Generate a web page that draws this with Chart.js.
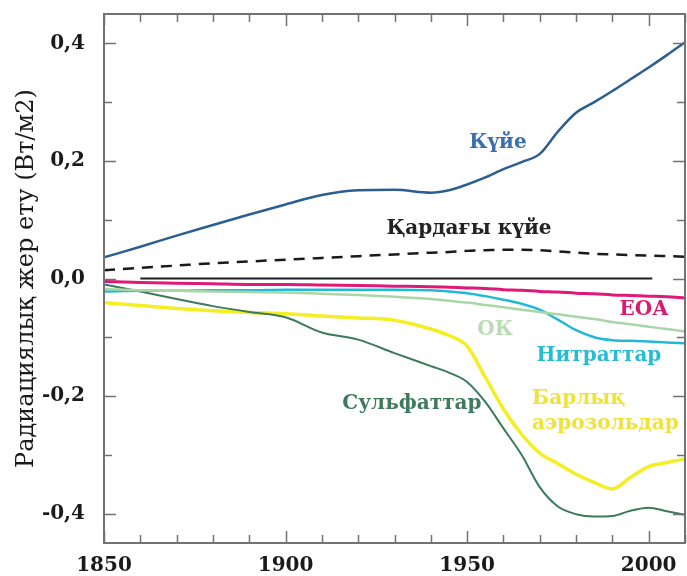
<!DOCTYPE html>
<html>
<head>
<meta charset="utf-8">
<script src="https://cdn.jsdelivr.net/npm/chart.js@4.4.1/dist/chart.umd.min.js"></script>
<style>
  html, body { margin: 0; padding: 0; background: #fff; }
  canvas { display: block; }
</style>
</head>
<body>
<canvas id="chart" width="687" height="576"></canvas>
<script>
// years shared by the forcing curves
const years = [1850, 1860, 1870, 1880, 1890, 1900, 1910, 1920, 1930, 1940, 1945, 1950,
               1955, 1960, 1965, 1970, 1975, 1980, 1985, 1990, 1995, 2000, 2005, 2010];

const soot = [0.036, 0.054, 0.073, 0.091, 0.109, 0.126, 0.142, 0.150, 0.151, 0.146, 0.150, 0.160,
              0.172, 0.186, 0.198, 0.212, 0.250, 0.282, 0.300, 0.319, 0.339, 0.359, 0.380, 0.402];
const snowSoot = [0.014, 0.018, 0.022, 0.026, 0.029, 0.032, 0.035, 0.038, 0.041, 0.044, 0.045, 0.047,
                  0.048, 0.049, 0.049, 0.048, 0.046, 0.044, 0.042, 0.041, 0.040, 0.039, 0.038, 0.037];
const eoa = [-0.005, -0.007, -0.008, -0.009, -0.010, -0.010, -0.011, -0.012, -0.013, -0.014, -0.015, -0.016,
             -0.017, -0.019, -0.020, -0.022, -0.023, -0.025, -0.026, -0.028, -0.029, -0.030, -0.031, -0.033];
const organicCarbon = [-0.018, -0.020, -0.021, -0.022, -0.023, -0.024, -0.026, -0.028, -0.031, -0.035, -0.038, -0.041,
                       -0.045, -0.049, -0.053, -0.057, -0.061, -0.065, -0.069, -0.074, -0.078, -0.082, -0.086, -0.090];
const nitrates = [-0.022, -0.021, -0.021, -0.020, -0.020, -0.019, -0.019, -0.019, -0.019, -0.020, -0.022, -0.025,
                  -0.030, -0.036, -0.043, -0.053, -0.070, -0.088, -0.100, -0.105, -0.106, -0.107, -0.109, -0.110];
const sulphates = [-0.010, -0.022, -0.035, -0.047, -0.057, -0.066, -0.092, -0.104, -0.127, -0.149, -0.160, -0.176,
                   -0.210, -0.255, -0.300, -0.355, -0.388, -0.401, -0.405, -0.404, -0.395, -0.390, -0.396, -0.402];
const allAerosols = [-0.041, -0.046, -0.051, -0.055, -0.058, -0.060, -0.064, -0.067, -0.071, -0.086, -0.097, -0.115,
                     -0.168, -0.222, -0.265, -0.297, -0.315, -0.333, -0.347, -0.358, -0.338, -0.320, -0.313, -0.307];

// zero reference line
const zeroYears = [1860, 2001];
const zeroValues = [0, 0];

// curve names written on the plot (year, value of the text anchor)
const curveLabels = [
  { text: 'Күйе', year: 1958.5, value: 0.231, color: '#3a6fae', align: 'center' },
  { text: 'Қардағы күйе', year: 1950.5, value: 0.085, color: '#222222', align: 'center' },
  { text: 'ЕОА', year: 1998.7, value: -0.054, color: '#d81b72', align: 'center' },
  { text: 'ОК', year: 1957.7, value: -0.088, color: '#b9dcb4', align: 'center' },
  { text: 'Нитраттар', year: 1986.3, value: -0.131, color: '#27bcd2', align: 'center' },
  { text: 'Сульфаттар', year: 1934.8, value: -0.214, color: '#3f7a5e', align: 'center' },
  { text: 'Барлық', year: 1967.9, value: -0.204, color: '#efe338', align: 'left' },
  { text: 'аэрозольдар', year: 1967.9, value: -0.248, color: '#efe338', align: 'left' }
];

const pts = (xs, ys) => xs.map((x, i) => ({ x: x, y: ys[i] }));
const SERIF = "'DejaVu Serif', serif";

function line(data, color, width, extra) {
  return Object.assign({
    data: data,
    borderColor: color,
    borderWidth: width,
    pointRadius: 0,
    fill: false,
    cubicInterpolationMode: 'monotone'
  }, extra || {});
}

const decorations = {
  id: 'decorations',
  afterDatasetsDraw(chart) {
    const { ctx, chartArea: a, scales: { x, y } } = chart;
    ctx.save();

    // frame
    ctx.strokeStyle = '#727272';
    ctx.lineWidth = 2;
    ctx.strokeRect(a.left, a.top, a.right - a.left, a.bottom - a.top);

    // inward ticks on all four sides
    ctx.lineWidth = 1.5;
    ctx.beginPath();
    for (let yr = 1850; yr <= 2010; yr += 10) {
      const px = Math.round(x.getPixelForValue(yr)) + 0.5;
      const len = yr % 50 === 0 ? 12 : 8;
      ctx.moveTo(px, a.bottom); ctx.lineTo(px, a.bottom - len);
      ctx.moveTo(px, a.top); ctx.lineTo(px, a.top + len);
    }
    for (let i = -4; i <= 4; i++) {
      const py = Math.round(y.getPixelForValue(i / 10)) + 0.5;
      const len = i % 2 === 0 ? 12 : 8;
      ctx.moveTo(a.left, py); ctx.lineTo(a.left + len, py);
      ctx.moveTo(a.right, py); ctx.lineTo(a.right - len, py);
    }
    ctx.stroke();

    // curve names
    ctx.font = 'bold 20px ' + SERIF;
    ctx.textBaseline = 'middle';
    curveLabels.forEach(l => {
      ctx.fillStyle = l.color;
      ctx.textAlign = l.align;
      ctx.fillText(l.text, x.getPixelForValue(l.year), y.getPixelForValue(l.value));
    });
    ctx.restore();
  }
};

new Chart(document.getElementById('chart'), {
  type: 'line',
  data: {
    datasets: [
      line(pts(zeroYears, zeroValues), '#1e1e1e', 2, { cubicInterpolationMode: 'default', tension: 0 }),
      line(pts(years, organicCarbon), '#a9d6a6', 2.5),
      line(pts(years, eoa), '#e0187a', 3),
      line(pts(years, nitrates), '#22b8d8', 2.5),
      line(pts(years, sulphates), '#3c7a5c', 2),
      line(pts(years, allAerosols), '#f4ee22', 3.5),
      line(pts(years, snowSoot), '#1a1a1a', 2.5, { borderDash: [11, 8] }),
      line(pts(years, soot), '#2b5f92', 2.5)
    ]
  },
  options: {
    responsive: false,
    animation: false,
    events: [],
    layout: { padding: { left: 0, top: 14, right: 2, bottom: 0 } },
    plugins: { legend: { display: false }, tooltip: { enabled: false } },
    scales: {
      x: {
        type: 'linear',
        min: 1850,
        max: 2010,
        grid: { display: false, drawTicks: false },
        border: { display: false },
        ticks: {
          stepSize: 50,
          includeBounds: false,
          maxRotation: 0,
          padding: 11,
          color: '#1a1a1a',
          font: { family: SERIF, size: 20, weight: 'bold' },
          callback: v => String(v)
        },
        afterFit: s => { s.height = 33; s.paddingLeft = 0; s.paddingRight = 0; }
      },
      y: {
        type: 'linear',
        min: -0.45,
        max: 0.45,
        grid: { display: false, drawTicks: false },
        border: { display: false },
        ticks: {
          stepSize: 0.2,
          includeBounds: false,
          padding: 19,
          color: '#1a1a1a',
          font: { family: SERIF, size: 20, weight: 'bold' },
          callback: v => v.toFixed(1).replace('.', ',')
        },
        title: {
          display: true,
          text: 'Радиациялық жер ету (Вт/м2)',
          color: '#1a1a1a',
          font: { family: SERIF, size: 24 },
          padding: { top: 12, bottom: 0 }
        },
        afterFit: s => { s.width = 104; s.paddingTop = 0; s.paddingBottom = 0; }
      }
    }
  },
  plugins: [decorations]
});
</script>
</body>
</html>
